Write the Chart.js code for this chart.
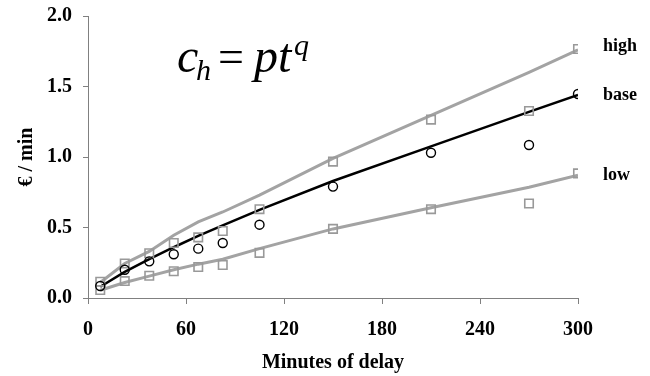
<!DOCTYPE html>
<html>
<head>
<meta charset="utf-8">
<script src="https://cdn.jsdelivr.net/npm/chart.js@4"></script>
<style>
  html, body { margin: 0; padding: 0; background: #fff; }
  #wrap { width: 650px; height: 376px; }
</style>
</head>
<body>
<div id="wrap"><canvas id="delayChart" width="650" height="376"></canvas></div>
<script>
// minutes of delay
const minutes = [7.5, 22.5, 37.5, 52.5, 67.5, 82.5, 105, 150, 210, 270, 300];

// observed values (€ / min)
const baseObs = [0.085, 0.20, 0.26, 0.31, 0.35, 0.39, 0.52, 0.79, 1.03, 1.085, 1.447];
const highObs = [0.115, 0.245, 0.317, 0.39, 0.43, 0.475, 0.63, 0.967, 1.265, 1.326, 1.766];
const lowObs = [0.057, 0.12, 0.158, 0.19, 0.22, 0.234, 0.32, 0.49, 0.63, 0.67, 0.884];

// fitted curves
const baseFit = [0.08, 0.185, 0.275, 0.36, 0.44, 0.515, 0.625, 0.83, 1.075, 1.32, 1.44];
const highFit = [0.11, 0.245, 0.33, 0.445, 0.54, 0.61, 0.73, 0.99, 1.295, 1.60, 1.76];
const lowFit = [0.055, 0.11, 0.155, 0.20, 0.24, 0.275, 0.35, 0.49, 0.64, 0.785, 0.87];

const seriesLabels = ["high", "base", "low"];
const xTicks = [0, 60, 120, 180, 240, 300];
const yTicks = [0, 0.5, 1.0, 1.5, 2.0];

const GREY = "#a3a3a3";
const SERIF = "'Liberation Serif', 'Times New Roman', serif";

const pts = (ys) => minutes.map((m, i) => ({ x: m, y: ys[i] }));

// right-hand series labels plus the formula
const annotations = {
  id: "annotations",
  afterDraw(chart) {
    const { ctx, scales } = chart;
    ctx.save();
    ctx.fillStyle = "#000";
    ctx.font = "bold 18px " + SERIF;
    ctx.textBaseline = "middle";
    ctx.textAlign = "left";
    const ends = [highFit, baseFit, lowFit];
    const nudge = [-3, 0, 0];
    seriesLabels.forEach((lab, i) => {
      const y = scales.y.getPixelForValue(ends[i][ends[i].length - 1]);
      ctx.fillText(lab, 603, y + nudge[i]);
    });

    // c_h = p t^q
    ctx.textBaseline = "alphabetic";
    const base = 72;
    ctx.font = "italic 48px " + SERIF;
    ctx.fillText("c", 177, base);
    ctx.font = "italic 30px " + SERIF;
    ctx.fillText("h", 196, base + 8);
    ctx.font = "46px " + SERIF;
    ctx.fillText("=", 218, base);
    ctx.font = "italic 48px " + SERIF;
    ctx.fillText("pt", 254, base);
    ctx.font = "italic 30px " + SERIF;
    ctx.fillText("q", 294, base - 17);
    ctx.restore();
  }
};

const ctx = document.getElementById("delayChart").getContext("2d");

new Chart(ctx, {
  type: "scatter",
  data: {
    datasets: [
      { label: "high fit", data: pts(highFit), showLine: true, borderColor: GREY, borderWidth: 3, pointRadius: 0, order: 3 },
      { label: "low fit", data: pts(lowFit), showLine: true, borderColor: GREY, borderWidth: 3, pointRadius: 0, order: 3 },
      { label: "base fit", data: pts(baseFit), showLine: true, borderColor: "#000", borderWidth: 2.5, pointRadius: 0, order: 2 },
      { label: "high", data: pts(highObs), pointStyle: "rect", pointRadius: 6, borderColor: "#999", borderWidth: 1.6, backgroundColor: "rgba(0,0,0,0)", order: 1 },
      { label: "low", data: pts(lowObs), pointStyle: "rect", pointRadius: 6, borderColor: "#999", borderWidth: 1.6, backgroundColor: "rgba(0,0,0,0)", order: 1 },
      { label: "base", data: pts(baseObs), pointStyle: "circle", pointRadius: 4.5, borderColor: "#000", borderWidth: 1.4, backgroundColor: "rgba(0,0,0,0)", order: 0 }
    ]
  },
  options: {
    responsive: false,
    animation: false,
    layout: { padding: { top: 16, right: 72, left: 0, bottom: 0 } },
    plugins: { legend: { display: false }, tooltip: { enabled: false } },
    scales: {
      x: {
        type: "linear",
        min: 0,
        max: 300,
        afterBuildTicks: (s) => { s.ticks = xTicks.map((v) => ({ value: v })); },
        afterFit: (s) => { s.height = 78; },
        border: { color: "#808080", width: 1 },
        grid: { drawOnChartArea: false, tickLength: 6, color: "#808080" },
        ticks: { color: "#000", padding: 14, font: { family: SERIF, size: 20, weight: "bold" } },
        title: { display: true, text: "Minutes of delay", color: "#000", padding: { top: 0, bottom: 1 }, font: { family: SERIF, size: 20, weight: "bold" } }
      },
      y: {
        type: "linear",
        min: 0,
        max: 2,
        afterBuildTicks: (s) => { s.ticks = yTicks.map((v) => ({ value: v })); },
        afterFit: (s) => { s.width = 88; s.paddingTop = 0; s.paddingBottom = 0; },
        border: { color: "#808080", width: 1 },
        grid: { drawOnChartArea: false, tickLength: 5, color: "#808080" },
        ticks: { color: "#000", padding: 11, callback: (v) => v.toFixed(1), font: { family: SERIF, size: 20, weight: "bold" } },
        title: { display: true, text: "€ / min", color: "#000", padding: { top: 15, bottom: 0 }, font: { family: SERIF, size: 20, weight: "bold" } }
      }
    }
  },
  plugins: [annotations]
});
</script>
</body>
</html>
